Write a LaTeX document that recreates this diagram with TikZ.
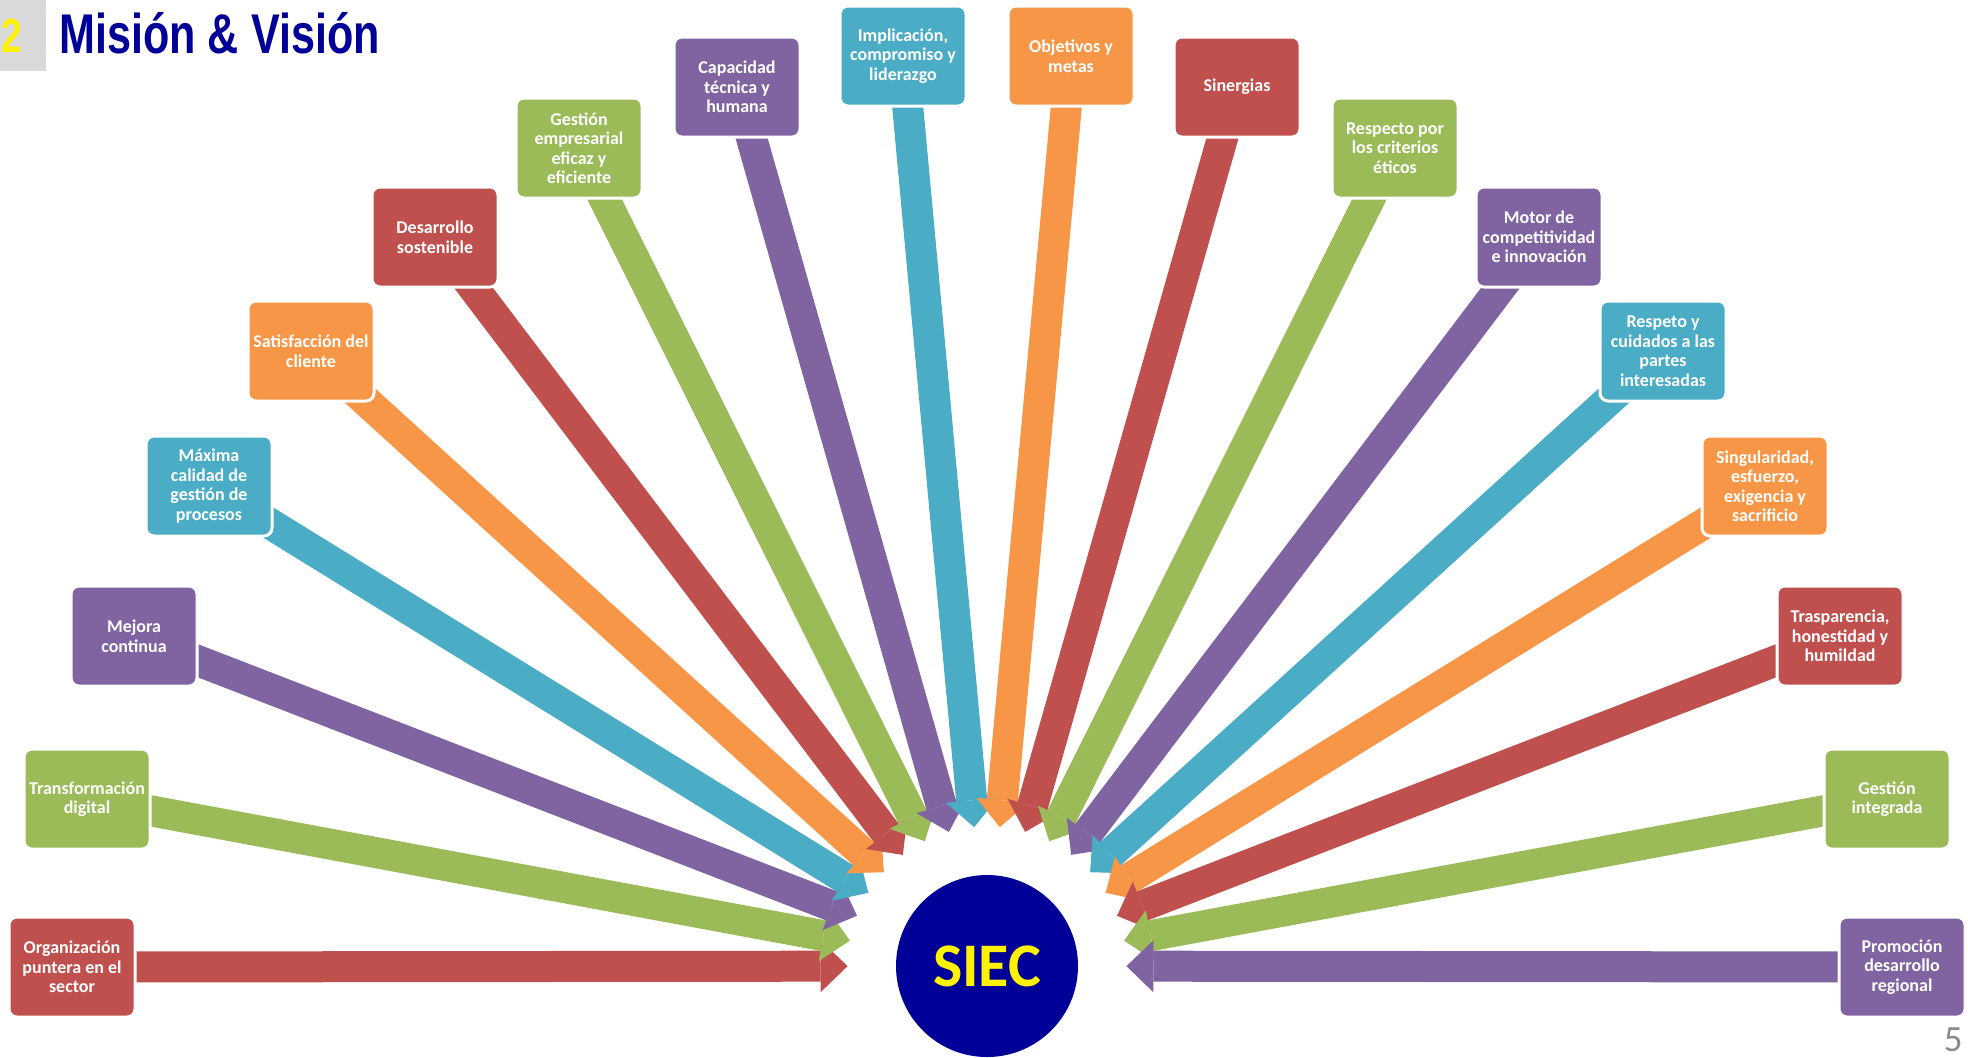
\documentclass[tikz,border=0pt]{standalone}
\usepackage{fontspec}
\setmainfont{Carlito}
\newfontfamily\titlefont[FakeStretch=0.77]{Liberation Sans}
\usetikzlibrary{arrows.meta,backgrounds}
\definecolor{boxred}{HTML}{C0504D}
\definecolor{boxgreen}{HTML}{9BBB59}
\definecolor{boxpurple}{HTML}{8064A2}
\definecolor{boxaqua}{HTML}{4BACC6}
\definecolor{boxorange}{HTML}{F79646}
\definecolor{siecblue}{HTML}{000099}
\definecolor{tabgray}{HTML}{D9D9D9}
\definecolor{pagegray}{HTML}{898989}

\begin{document}
\begin{tikzpicture}[x=0.5pt, y=-0.5pt,
    value/.style={rounded corners=4pt, draw=white, line width=1.5pt, minimum width=63pt, minimum height=50pt, inner sep=1pt, text=white, align=center, font=\bfseries\fontsize{9}{9.75}\selectfont},
    flow/.style={line width=15.5pt, shorten >=24pt, -{Triangle[length=13.5pt, width=26pt, line width=0pt]}}]
    \useasboundingbox (0,0) rectangle (1968,1057);
    % heading
    \node[fill=tabgray, anchor=north west, minimum width=23pt, minimum height=35.5pt, inner sep=0] (tab) at (0,0) {};
    \node[text=yellow, inner sep=0, font=\titlefont\bfseries\fontsize{24}{26}\selectfont] (num) at (12,36) {2};
    \node[anchor=base west, inner sep=0, text=siecblue, font=\titlefont\bfseries\fontsize{28}{30}\selectfont] (title) at (59,53) {Misión \& Visión};
    \node[anchor=south east, inner sep=0, text=pagegray, font=\fontsize{18.5}{20}\selectfont] (page) at (1963,1052) {5};
    % centre
    \node[circle, fill=siecblue, minimum size=91pt, inner sep=0, text=yellow, font=\bfseries\fontsize{31}{34}\selectfont] (siec) at (987,966) {SIEC};
    % values, left to right
    \node[value, fill=boxred] (org) at (72,967) {Organización\\puntera en el\\sector};
    \node[value, fill=boxgreen] (digital) at (87,799) {Transformación\\digital};
    \node[value, fill=boxpurple] (mejora) at (134,636) {Mejora\\continua};
    \node[value, fill=boxaqua] (calidad) at (209,486) {Máxima\\calidad de\\gestión de\\procesos};
    \node[value, fill=boxorange] (cliente) at (311,351) {Satisfacción del\\cliente};
    \node[value, fill=boxred] (sostenible) at (435,237) {Desarrollo\\sostenible};
    \node[value, fill=boxgreen] (gestion) at (579,148) {Gestión\\empresarial\\eficaz y\\eficiente};
    \node[value, fill=boxpurple] (capacidad) at (737,87) {Capacidad\\técnica y\\humana};
    \node[value, fill=boxaqua] (liderazgo) at (903,56) {Implicación,\\compromiso y\\liderazgo};
    \node[value, fill=boxorange] (metas) at (1071,56) {Objetivos y\\metas};
    \node[value, fill=boxred] (sinergias) at (1237,87) {Sinergias};
    \node[value, fill=boxgreen] (etica) at (1395,148) {Respecto por\\los criterios\\éticos};
    \node[value, fill=boxpurple] (motor) at (1539,237) {Motor de\\competitividad\\e innovación};
    \node[value, fill=boxaqua] (partes) at (1663,351) {Respeto y\\cuidados a las\\partes\\interesadas};
    \node[value, fill=boxorange] (esfuerzo) at (1765,486) {Singularidad,\\esfuerzo,\\exigencia y\\sacrificio};
    \node[value, fill=boxred] (honestidad) at (1840,636) {Trasparencia,\\honestidad y\\humildad};
    \node[value, fill=boxgreen] (integrada) at (1887,799) {Gestión\\integrada};
    \node[value, fill=boxpurple] (regional) at (1902,967) {Promoción\\desarrollo\\regional};
    % arrows into the circle
    \begin{scope}[on background layer]
        \draw[flow, boxred] (org.center) -- (siec);
        \draw[flow, boxgreen] (digital.center) -- (siec);
        \draw[flow, boxpurple] (mejora.center) -- (siec);
        \draw[flow, boxaqua] (calidad.center) -- (siec);
        \draw[flow, boxorange] (cliente.center) -- (siec);
        \draw[flow, boxred] (sostenible.center) -- (siec);
        \draw[flow, boxgreen] (gestion.center) -- (siec);
        \draw[flow, boxpurple] (capacidad.center) -- (siec);
        \draw[flow, boxaqua] (liderazgo.center) -- (siec);
        \draw[flow, boxorange] (metas.center) -- (siec);
        \draw[flow, boxred] (sinergias.center) -- (siec);
        \draw[flow, boxgreen] (etica.center) -- (siec);
        \draw[flow, boxpurple] (motor.center) -- (siec);
        \draw[flow, boxaqua] (partes.center) -- (siec);
        \draw[flow, boxorange] (esfuerzo.center) -- (siec);
        \draw[flow, boxred] (honestidad.center) -- (siec);
        \draw[flow, boxgreen] (integrada.center) -- (siec);
        \draw[flow, boxpurple] (regional.center) -- (siec);
    \end{scope}
\end{tikzpicture}
\end{document}
